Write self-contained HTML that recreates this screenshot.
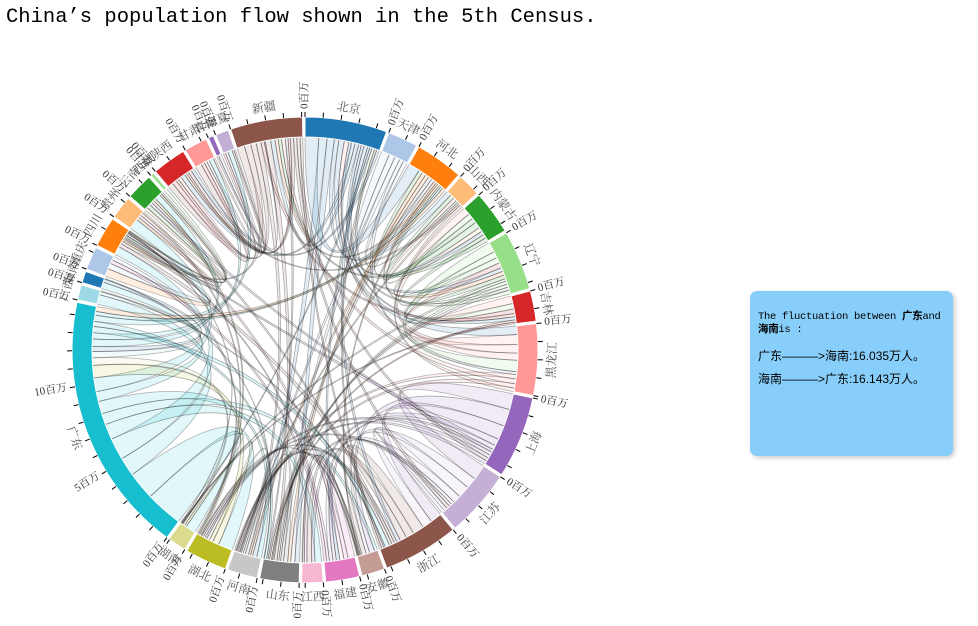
<!DOCTYPE html>
<html><head><meta charset="utf-8">
<style>
body{margin:0;background:#fff;width:978px;height:626px;overflow:hidden;position:relative;font-family:"Liberation Serif","Noto Serif CJK SC",serif;}
#title{position:absolute;left:6px;top:6px;font-family:"Liberation Mono","Noto Sans CJK SC",monospace;font-size:20.5px;color:#000;white-space:nowrap;}
#tip{position:absolute;left:750px;top:291px;width:203px;height:165px;background:#87cefa;border-radius:7px;box-shadow:2px 2px 5px rgba(0,0,0,0.2);font-family:"Liberation Mono","Noto Sans CJK SC",monospace;font-size:10.5px;color:#000;box-sizing:border-box;padding:20px 6px 0 8px;line-height:13px;letter-spacing:-0.3px;}
#tip p{margin:0 0 10px 0;font-family:"Liberation Sans","Noto Sans CJK SC",sans-serif;font-size:12px;letter-spacing:0;}
svg{position:absolute;left:0;top:0;}
</style></head><body>
<div id="title">China’s population flow shown in the 5th Census.</div>
<svg id="chart" width="978" height="626"></svg>
<div id="tip">
<div style="margin-bottom:13px;white-space:nowrap">The fluctuation between <b>广东</b>and<br><b>海南</b>is :</div>
<p>广东———&gt;海南:16.035万人。</p>
<p>海南———&gt;广东:16.143万人。</p>
</div>
<script>
const names=["北京","天津","河北","山西","内蒙古","辽宁","吉林","黑龙江","上海","江苏","浙江","安徽","福建","江西","山东","河南","湖北","湖南","广东","广西","海南","重庆","四川","贵州","云南","西藏","陕西","甘肃","青海","宁夏","新疆"];
const colors=["#1f77b4","#aec7e8","#ff7f0e","#ffbb78","#2ca02c","#98df8a","#d62728","#ff9896","#9467bd","#c5b0d5","#8c564b","#c49c94","#e377c2","#f7b6d2","#7f7f7f","#c7c7c7","#bcbd22","#dbdb8d","#17becf","#9edae5","#1f77b4","#aec7e8","#ff7f0e","#ffbb78","#2ca02c","#98df8a","#d62728","#ff9896","#9467bd","#c5b0d5","#8c564b"];
// group totals (百万人)
const totals=[4.6,1.7,2.7,1.3,2.45,3.35,1.7,4.0,4.6,3.8,4.25,1.3,1.9,1.2,2.2,1.7,2.35,1.05,14.7,0.85,0.65,1.3,1.7,1.3,1.5,0.2,1.9,1.3,0.3,0.75,4.05];
// flows: source index, target index, value (万人)
const flowSrc=[18,18,18,18,18,18,18,18,18,0,0,0,0,0,8,8,8,8,9,9,9,10,10,10,7,7,7,5,5,5,4,4,2,2,30,30,30,30,22,22,16,16,14,14,15,15,12,12,26,26,1,1,3,6,6,11,13,17,19,21,23,24,27,29,28,20,25,30,0,8,
 0,0,0,0,0,0,0,1,1,1,2,2,2,3,3,4,4,5,5,5,6,6,7,7,7,8,8,8,9,9,10,10,10,11,12,12,13,14,14,15,16,17,18,18,18,18,18,19,20,21,22,23,24,26,27,29,30,30,30,30,7,5,9,10,8,18,0,2];
const flowTgt=[17,16,19,22,13,11,15,20,23,2,15,14,3,7,9,11,10,13,11,10,14,11,13,22,6,4,0,7,6,4,3,2,14,15,27,22,26,15,21,23,18,17,15,2,16,11,13,23,27,29,2,14,4,5,30,14,12,18,18,22,24,22,26,27,30,18,22,14,5,22,
 26,30,4,6,10,12,17,15,7,3,5,11,30,15,26,5,30,17,14,2,14,17,15,30,14,12,24,16,16,12,16,24,15,16,22,21,11,5,30,11,24,22,24,27,10,14,29,10,14,16,24,16,22,30,29,28,26,9,8,10,3,0,9,0,15,2,26,18];
const flowVal=[60,45,30,35,25,18,20,16,22,30,18,16,10,12,28,30,25,12,20,22,14,25,18,15,14,12,10,16,10,9,8,10,10,9,14,12,10,9,8,6,20,12,14,10,9,8,10,6,8,5,8,6,7,8,6,6,6,12,10,6,6,8,6,6,2,8,1,10,6,8,
 8,8,6,6,8,5,5,5,4,4,6,5,6,4,4,6,6,4,5,5,4,3,6,7,6,5,6,6,6,5,6,6,6,3,4,4,3,5,5,4,5,3,12,10,10,8,10,3,2,4,4,4,4,4,4,3,6,6,6,5,5,6,6,5,6,6,6,8];

const svg=document.getElementById('chart');
const NS='http://www.w3.org/2000/svg';
const cx=305,cy=350,R0=213,R1=233;
const n=names.length,pad=0.6*Math.PI/180;
const sum=totals.reduce((a,b)=>a+b,0);
const k=(2*Math.PI-n*pad)/sum;
const starts=[],ends=[];
let a=0;
for(let i=0;i<n;i++){starts.push(a);a+=totals[i]*k;ends.push(a);a+=pad;}
function pt(r,ang){return [cx+r*Math.sin(ang),cy-r*Math.cos(ang)];}
function mk(tag,attrs){const e=document.createElementNS(NS,tag);for(const key in attrs)e.setAttribute(key,attrs[key]);return e;}
const gR=mk('g',{});


svg.appendChild(gR);
const groupFlowSum=new Array(n).fill(0);
for(let f=0;f<flowVal.length;f++){groupFlowSum[flowSrc[f]]+=flowVal[f];groupFlowSum[flowTgt[f]]+=flowVal[f];}
const cursor=starts.slice();
function sub(g,v){const span=(ends[g]-starts[g]);const w=span*v/groupFlowSum[g];const s=cursor[g];cursor[g]+=w;return [s,s+w];}
for(let f=0;f<flowVal.length;f++){
  const s=sub(flowSrc[f],flowVal[f]),t=sub(flowTgt[f],flowVal[f]);
  const p0=pt(R0,s[0]),p1=pt(R0,s[1]),q0=pt(R0,t[0]),q1=pt(R0,t[1]);
  const d=`M${p0[0]},${p0[1]}A${R0},${R0} 0 0 1 ${p1[0]},${p1[1]}Q${cx},${cy} ${q0[0]},${q0[1]}A${R0},${R0} 0 0 1 ${q1[0]},${q1[1]}Q${cx},${cy} ${p0[0]},${p0[1]}Z`;
  const p=mk('path',{d:d,fill:colors[flowSrc[f]],'fill-opacity':0.13,stroke:'#000','stroke-opacity':0.3,'stroke-width':0.8});
  
  
  gR.appendChild(p);
}
for(let i=0;i<n;i++){
  const a0=starts[i],a1=ends[i];
  const o0=pt(R1,a0),o1=pt(R1,a1),i1=pt(R0,a1),i0=pt(R0,a0);
  const lg=(a1-a0)>Math.PI?1:0;
  const d=`M${o0[0]},${o0[1]}A${R1},${R1} 0 ${lg} 1 ${o1[0]},${o1[1]}L${i1[0]},${i1[1]}A${R0},${R0} 0 ${lg} 0 ${i0[0]},${i0[1]}Z`;
  const p=mk('path',{d:d,fill:colors[i],stroke:'#fff','stroke-width':1});
  
  
  svg.appendChild(p);
  for(let v=0;v<=totals[i]+1e-9;v+=1){
    const ang=a0+v*k;
    const t0=pt(R1,ang),t1=pt(R1+5,ang);
    const ln=mk('line',{x1:t0[0],y1:t0[1],x2:t1[0],y2:t1[1],stroke:'#000','stroke-width':1});
    
    
    svg.appendChild(ln);
    if(Math.round(v)%5===0){
      const deg=ang*180/Math.PI;
      const tp=pt(R1+8,ang);
      let rot=deg-90,anchor='start';
      if(deg>180){rot=deg+90;anchor='end';}
      const tx=mk('text',{x:tp[0],y:tp[1],transform:`rotate(${rot} ${tp[0]} ${tp[1]})`,'text-anchor':anchor,'dominant-baseline':'middle','font-size':11,fill:'#333'});
      tx.textContent=Math.round(v)+'百万';
      
      
      svg.appendChild(tx);
    }
  }
  const mid=(a0+a1)/2,deg=mid*180/Math.PI;
  const np=pt(R1+9,mid);
  let rot=deg;
  if(deg>90&&deg<270)rot=deg+180;
  const base=(deg>90&&deg<270)?'hanging':'auto';
  const nt=mk('text',{x:np[0],y:np[1],transform:`rotate(${rot} ${np[0]} ${np[1]})`,'text-anchor':'middle','dominant-baseline':base,'font-size':12,fill:'#555'});
  nt.textContent=names[i];
  
  
  svg.appendChild(nt);
}
</script>
</body></html>
